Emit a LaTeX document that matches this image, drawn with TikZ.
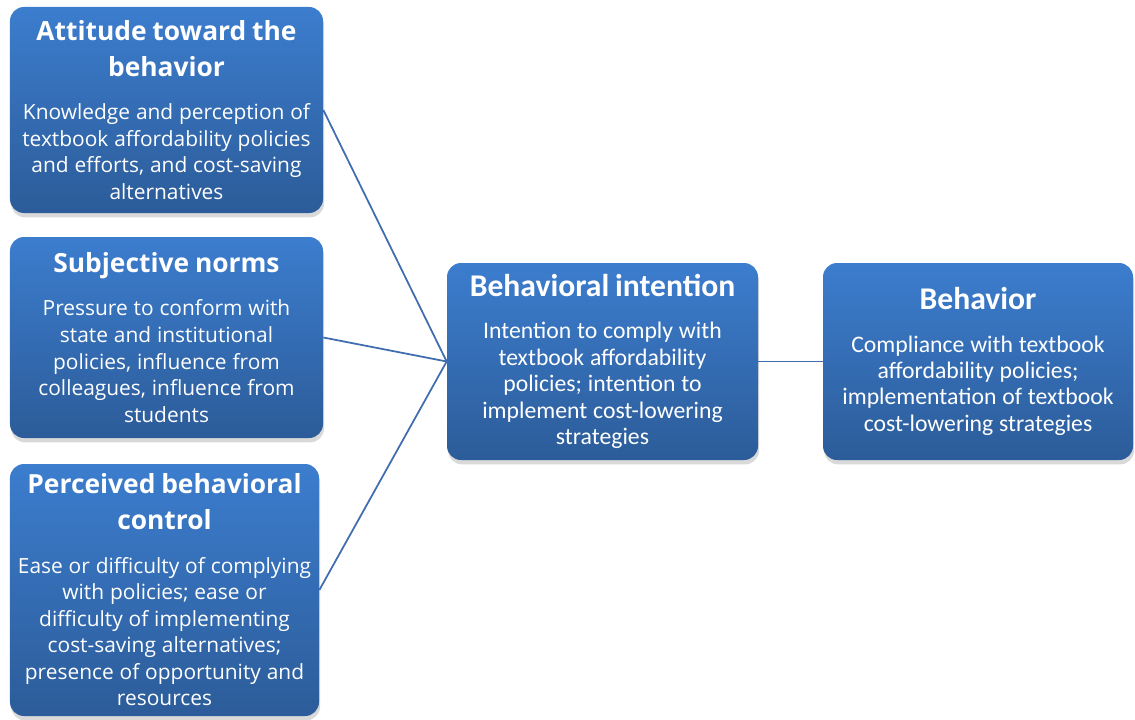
\documentclass[tikz,border=0pt]{standalone}
\usepackage{fontspec}
\setmainfont{Open Sans}
\newfontfamily\carlito{Carlito}
\usetikzlibrary{positioning, shadows}
\definecolor{boxtop}{HTML}{3C7DCE}
\definecolor{boxbot}{HTML}{2C5C99}
\definecolor{linkblue}{HTML}{3F6DAF}
\newcommand{\lhead}{\fontsize{15}{20.5}\selectfont\bfseries}
\newcommand{\lbody}{\fontsize{11.9}{15.1}\selectfont}
\newcommand{\rhead}{\carlito\fontsize{18}{22}\selectfont\bfseries}
\newcommand{\rbody}{\carlito\fontsize{13.5}{15}\selectfont}

\begin{document}
\begin{tikzpicture}[
    box/.style={rectangle, rounded corners=0.28cm, top color=boxtop, bottom color=boxbot,
        text=white, inner sep=0.05cm, align=center,
        drop shadow={opacity=0.3, shadow xshift=0.6pt, shadow yshift=-2.5pt}},
    link/.style={draw=linkblue, line width=1pt}]
    \useasboundingbox (0,0) rectangle (22.7,-14.38);
    % Nodes
    \node[box, text width=6.16cm, minimum height=4.12cm] (att) at (3.33,-2.20)
        {{\lhead Attitude toward the\\behavior\par}\vskip9.5pt
         {\lbody Knowledge and perception of\\textbook affordability policies\\and efforts, and cost-saving\\alternatives\par}};
    \node[box, text width=6.16cm, minimum height=4.02cm] (norm) at (3.33,-6.75)
        {{\lhead Subjective norms\par}\vskip9.5pt
         {\lbody Pressure to conform with\\state and institutional\\policies, influence from\\colleagues, influence from\\students\par}};
    \node[box, text width=6.08cm, minimum height=5.04cm] (pbc) at (3.29,-11.80)
        {{\lhead Perceived behavioral\\control\par}\vskip9.5pt
         {\lbody Ease or difficulty of complying\\with policies; ease or\\difficulty of implementing\\cost-saving alternatives;\\presence of opportunity and\\resources\par}};
    \node[box, text width=6.12cm, minimum height=3.94cm] (intent) at (12.05,-7.23)
        {{\rhead Behavioral intention\par}\vskip9pt
         {\rbody Intention to comply with\\textbook affordability\\policies; intention to\\implement cost-lowering\\strategies\par}};
    \node[box, text width=6.10cm, minimum height=3.94cm] (beh) at (19.56,-7.23)
        {{\rhead Behavior\par}\vskip9pt
         {\rbody Compliance with textbook\\affordability policies;\\implementation of textbook\\cost-lowering strategies\par}};

    % Lines
    \draw[link] (att.east) -- (intent.west);
    \draw[link] (norm.east) -- (intent.west);
    \draw[link] (pbc.east) -- (intent.west);
    \draw[link] (intent.east) -- (beh.west);
\end{tikzpicture}
\end{document}
